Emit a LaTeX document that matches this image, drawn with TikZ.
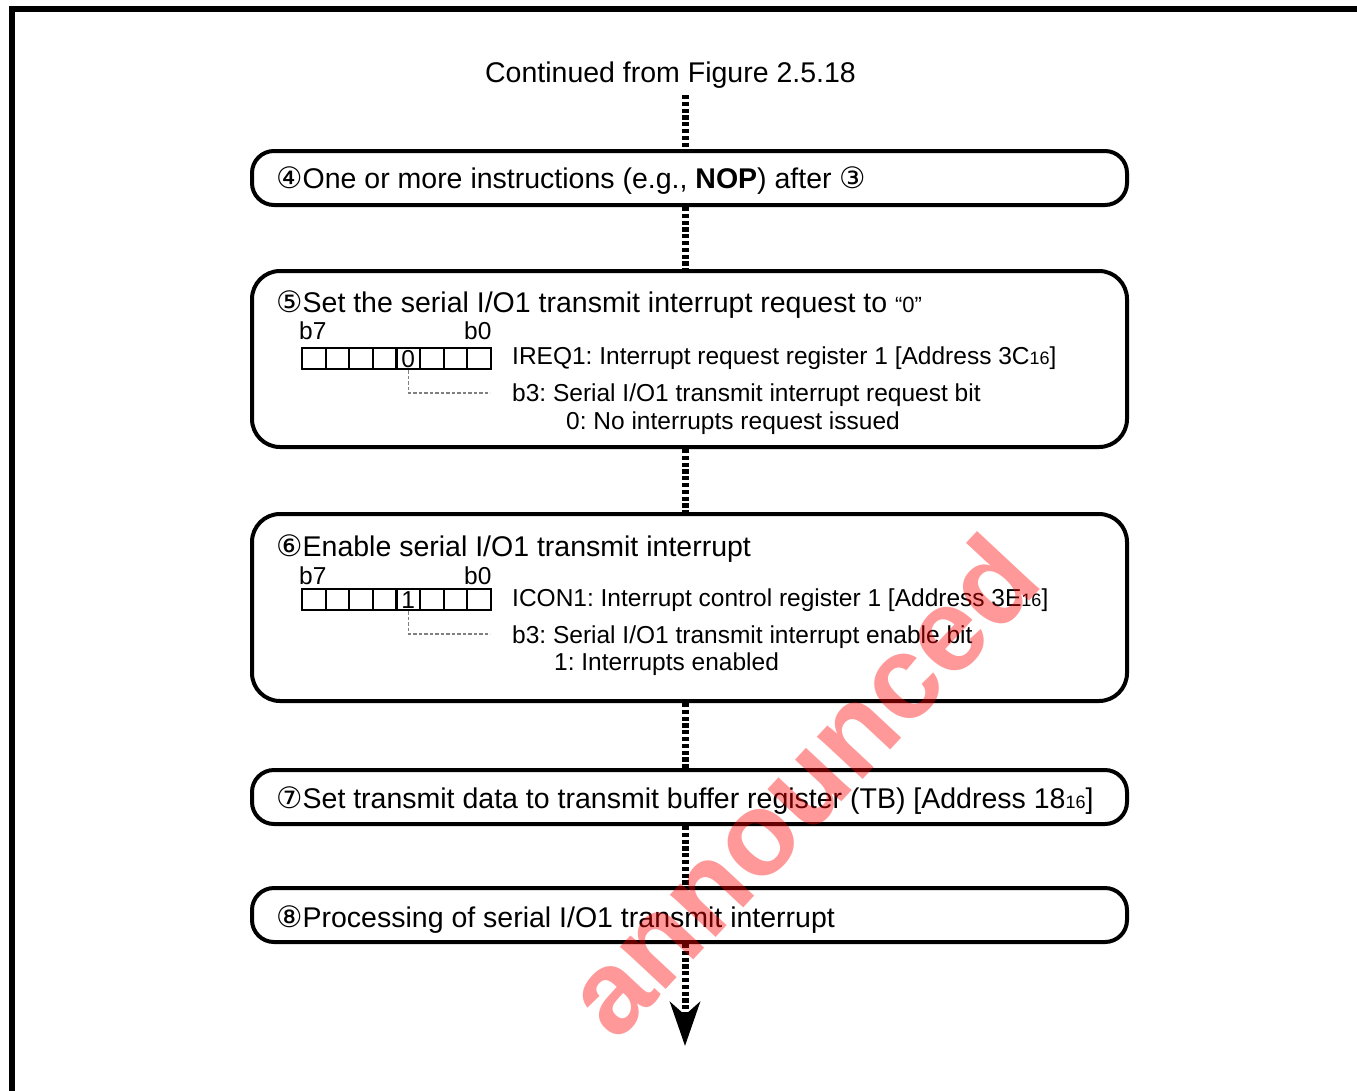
\documentclass[tikz,border=0pt]{standalone}
\usepackage{fontspec}
\setmainfont{Liberation Sans}
\newfontfamily\circfont{DejaVu Sans}
\usetikzlibrary{arrows.meta}
\frenchspacing
\newcommand{\cnum}[1]{{\circfont\fontsize{29.5}{30}\selectfont #1}}
\newcommand{\subsx}[1]{{\fontsize{18}{18}\selectfont #1}}
\begin{document}
\begin{tikzpicture}[x=1pt,y=-1pt,
  procbox/.style={draw, line width=4pt, inner sep=0pt, minimum width=875pt},
  maintext/.style={anchor=base west, inner sep=0pt, font=\fontsize{28.5}{34}\selectfont},
  subtext/.style={anchor=base west, inner sep=0pt, font=\fontsize{24.5}{29}\selectfont},
  conn/.style={line width=7pt, dash pattern=on 4.2pt off 2.6pt},
  cellbox/.style={draw, line width=2.2pt, minimum width=23.6pt, minimum height=21pt, inner sep=0pt, anchor=north west},
  celltext/.style={inner sep=0pt, font=\fontsize{24.5}{29}\selectfont},
  leader/.style={draw=gray, line width=1.3pt, dash pattern=on 3.5pt off 2pt},
  wmark/.style={rotate=47, text=red, opacity=0.4, inner sep=0pt, font=\bfseries\fontsize{118}{118}\selectfont}
]
\useasboundingbox (0,0) rectangle (1357,1090);
\clip (0,0) rectangle (1357,1090);
\fill[white] (0,0) rectangle (1357,1090);

% outer frame
\draw[line width=6pt] (11.5,1100) -- (11.5,9) -- (1370,9);

% heading
\node[maintext, anchor=base] (cont) at (670.5,82) {Continued from Figure 2.5.18};

% process boxes
\node[procbox, minimum height=54pt, rounded corners=22pt] (b4) at (689.5,178) {};
\node[procbox, minimum height=176pt, rounded corners=28pt] (b5) at (689.5,359) {};
\node[procbox, minimum height=187pt, rounded corners=28pt] (b6) at (689.5,607.5) {};
\node[procbox, minimum height=54pt, rounded corners=22pt] (b7) at (689.5,797) {};
\node[procbox, minimum height=54pt, rounded corners=22pt] (b8) at (689.5,915) {};

% box 4
\node[maintext] (t4) at (276,188) {\cnum{④}One or more instructions (e.g., \textbf{NOP}) after \cnum{③}};

% box 5
\node[maintext] (t5) at (276,312) {\cnum{⑤}Set the serial I/O1 transmit interrupt request to {\fontsize{22}{22}\selectfont “0”}};
\node[subtext] (r5b7) at (299,339) {b7};
\node[subtext] (r5b0) at (464,339) {b0};
\foreach \i in {0,...,7} \node[cellbox] (ra\i) at ({301+23.6*\i},347) {};
\node[celltext] (ra4v) at (ra4.center) {0};
\node[subtext] (t5a) at (512,364) {IREQ1: Interrupt request register 1 [Address 3C\subsx{16}]};
\node[subtext] (t5b) at (512,401) {b3: Serial I/O1 transmit interrupt request bit};
\node[subtext] (t5c) at (566,429) {0: No interrupts request issued};
\coordinate (la) at (490,393);
\draw[leader] (ra4.south) |- (la);

% box 6
\node[maintext] (t6) at (276,556) {\cnum{⑥}Enable serial I/O1 transmit interrupt};
\node[subtext] (r6b7) at (299,584) {b7};
\node[subtext] (r6b0) at (464,584) {b0};
\foreach \i in {0,...,7} \node[cellbox] (rb\i) at ({301+23.6*\i},588) {};
\node[celltext] (rb4v) at (rb4.center) {1};
\node[subtext] (t6a) at (512,606) {ICON1: Interrupt control register 1 [Address 3E\subsx{16}]};
\node[subtext] (t6b) at (512,643) {b3: Serial I/O1 transmit interrupt enable bit};
\node[subtext] (t6c) at (554,670) {1: Interrupts enabled};
\coordinate (lb) at (490,634);
\draw[leader] (rb4.south) |- (lb);

% box 7, 8
\node[maintext] (t7) at (276,808) {\cnum{⑦}Set transmit data to transmit buffer register (TB) [Address 18\subsx{16}]};
\node[maintext] (t8) at (276,927) {\cnum{⑧}Processing of serial I/O1 transmit interrupt};

% connectors
\coordinate (c0) at (685,95);
\coordinate (cend) at (685,1046);
\draw[conn] (c0) -- (c0 |- b4.north);
\draw[conn] (b4.south -| c0) -- (b5.north -| c0);
\draw[conn] (b5.south -| c0) -- (b6.north -| c0);
\draw[conn] (b6.south -| c0) -- (b7.north -| c0);
\draw[conn] (b7.south -| c0) -- (b8.north -| c0);
\draw[conn, -{Stealth[length=44pt,width=30pt,inset=13pt]}] (b8.south -| c0) -- (cend);

% watermark
\node[wmark] (wm) at (800,785) {announced};
\end{tikzpicture}
\end{document}
